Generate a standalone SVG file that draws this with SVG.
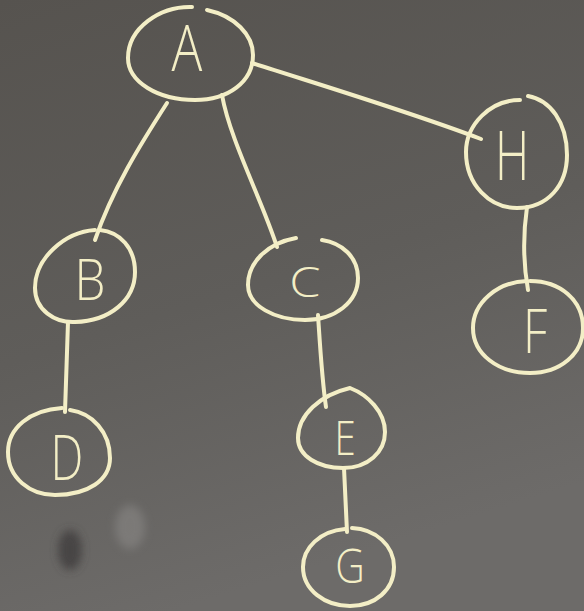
<svg xmlns="http://www.w3.org/2000/svg" width="584" height="611" viewBox="0 0 584 611">
  <defs>
    <linearGradient id="bg" x1="0" y1="0" x2="0.3" y2="1">
      <stop offset="0" stop-color="#56534f"/>
      <stop offset="0.55" stop-color="#5f5d5a"/>
      <stop offset="1" stop-color="#6d6b69"/>
    </linearGradient>
    <filter id="soft" x="-50%" y="-50%" width="200%" height="200%">
      <feGaussianBlur stdDeviation="4"/>
    </filter>
  </defs>
  <style>
    .chalk { fill: none; stroke: #f3eec6; stroke-width: 4; stroke-linecap: round; stroke-linejoin: round; }
    .edge { fill: none; stroke: #f3eec6; stroke-width: 4; stroke-linecap: round; }
    .lbl { fill: #f3eec6; font-family: "Open Sans", "Liberation Sans", sans-serif; font-weight: 300; text-anchor: middle; }
  </style>
  <rect width="584" height="611" fill="url(#bg)"/>
  <!-- board smudges -->
  <ellipse cx="70" cy="550" rx="12" ry="20" fill="#43413f" filter="url(#soft)" opacity="0.85"/>
  <ellipse cx="130" cy="527" rx="15" ry="22" fill="#8c8a88" filter="url(#soft)" opacity="0.55"/>

  <g id="connectors">
    <path class="edge" d="M252,63 C330,88 410,112 481,139"/>
    <path class="edge" d="M167,103 C140,145 112,190 95,240"/>
    <path class="edge" d="M222,95 C230,140 262,200 277,247"/>
    <path class="edge" d="M527,207 C523,235 523,262 528,290"/>
    <path class="edge" d="M68,322 C67,350 66,385 65,412"/>
    <path class="edge" d="M318,315 C320,345 322,380 326,407"/>
    <path class="edge" d="M344,468 C345,490 346,512 347,532"/>
  </g>

  <g id="node-A">
    <path class="chalk" d="M207,10 C235,16 253,35 253,55 C253,82 228,100 195,100 C158,100 128,82 128,58 C128,28 160,6 192,7"/>
    <text class="lbl" x="187" y="71" font-size="64" transform="translate(187 0) scale(0.8 1) translate(-187 0)">A</text>
  </g>
  <g id="node-H">
    <path class="chalk" d="M520,100 C490,100 466,125 466,152 C466,185 490,208 517,208 C548,208 567,185 567,155 C567,122 550,100 528,96"/>
    <text class="lbl" x="512" y="180" font-size="68" transform="translate(512 0) scale(0.7 1) translate(-512 0)">H</text>
  </g>
  <g id="node-B">
    <path class="chalk" d="M95,230 C65,232 35,258 35,288 C35,310 55,323 75,322 C110,321 135,300 135,272 C135,248 120,232 100,230"/>
    <text class="lbl" x="90" y="300" font-size="58" transform="translate(90 0) scale(0.85 1) translate(-90 0)">B</text>
  </g>
  <g id="node-C">
    <path class="chalk" d="M296,238 C268,243 248,262 248,285 C248,306 275,320 305,320 C335,320 358,302 358,278 C358,257 342,243 322,240"/>
    <text class="lbl" x="305" y="297" font-size="42" transform="translate(305 0) scale(1.2 1) translate(-305 0)">C</text>
  </g>
  <g id="node-D">
    <path class="chalk" d="M62,408 C30,410 8,428 8,452 C8,478 30,495 55,495 C88,495 110,480 110,458 C110,432 92,413 70,410"/>
    <text class="lbl" x="67" y="480" font-size="62" transform="translate(67 0) scale(0.75 1) translate(-67 0)">D</text>
  </g>
  <g id="node-E">
    <path class="chalk" d="M350,388 C320,395 298,415 298,438 C298,456 318,468 343,468 C368,468 385,452 385,432 C385,412 368,395 350,388 Z"/>
    <text class="lbl" x="345" y="455" font-size="48" transform="translate(345 0) scale(0.8 1) translate(-345 0)">E</text>
  </g>
  <g id="node-F">
    <path class="chalk" d="M527,281 C497,282 473,303 473,328 C473,354 498,373 530,373 C560,373 583,354 583,328 C583,300 560,281 530,281"/>
    <text class="lbl" x="535" y="353" font-size="60" transform="translate(535 0) scale(0.8 1) translate(-535 0)">F</text>
  </g>
  <g id="node-G">
    <path class="chalk" d="M345,529 C320,531 303,548 303,567 C303,590 325,606 350,606 C375,606 394,590 394,567 C394,545 375,529 352,528"/>
    <text class="lbl" x="350" y="583" font-size="48" transform="translate(350 0) scale(0.85 1) translate(-350 0)">G</text>
  </g>
</svg>
